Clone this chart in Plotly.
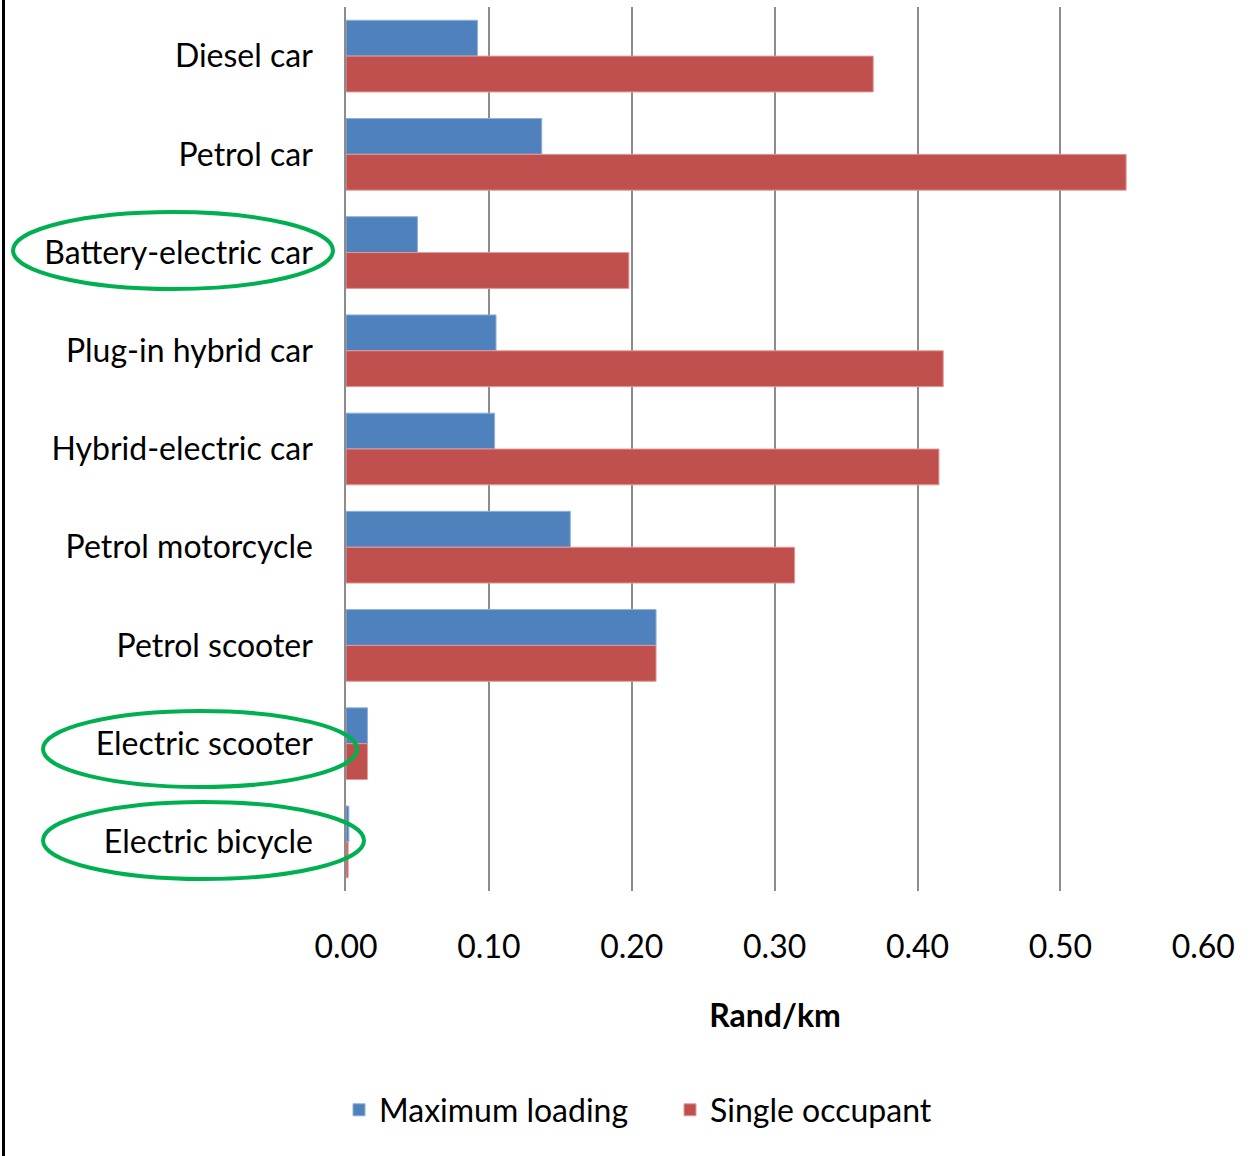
import plotly.graph_objects as go

# Cost per kilometre by vehicle type (Rand/km)
categories = [
    "Diesel car",
    "Petrol car",
    "Battery-electric car",
    "Plug-in hybrid car",
    "Hybrid-electric car",
    "Petrol motorcycle",
    "Petrol scooter",
    "Electric scooter",
    "Electric bicycle",
]
max_loading = [0.092, 0.137, 0.050, 0.105, 0.104, 0.157, 0.217, 0.015, 0.002]
single_occupant = [0.369, 0.546, 0.198, 0.418, 0.415, 0.314, 0.217, 0.015, 0.0015]

x_ticks = [0.0, 0.1, 0.2, 0.3, 0.4, 0.5, 0.6]
x_tick_labels = ["0.00", "0.10", "0.20", "0.30", "0.40", "0.50", "0.60"]

# Categories whose labels are circled
highlighted = ["Battery-electric car", "Electric scooter", "Electric bicycle"]

FONT = "Lato"
W, H = 1259, 1156
M_L, M_R, M_T, M_B = 346, 55, 7, 265
PLOT_W = W - M_L - M_R
PLOT_H = H - M_T - M_B


def px_to_paper_x(px):
    return (px - M_L) / PLOT_W


def px_to_paper_y(py):
    return (H - M_B - py) / PLOT_H


fig = go.Figure()
fig.add_trace(go.Bar(
    y=categories, x=max_loading, name="Maximum loading", orientation="h",
    marker=dict(color="#4F81BD", line=dict(color="#8fb0db", width=1)),
    legend="legend",
))
fig.add_trace(go.Bar(
    y=categories, x=single_occupant, name="Single occupant", orientation="h",
    marker=dict(color="#C0504D", line=dict(color="#e49a98", width=1)),
    legend="legend2",
))

# Green ellipses drawn around the highlighted labels (pixel boxes)
ellipse_boxes = {
    "Battery-electric car": (13, 212, 333, 289),
    "Electric scooter": (43, 711, 357, 787),
    "Electric bicycle": (43, 802, 364, 879),
}
shapes = []
for name in highlighted:
    x0, y0, x1, y1 = ellipse_boxes[name]
    shapes.append(dict(
        type="circle", xref="paper", yref="paper",
        x0=px_to_paper_x(x0), x1=px_to_paper_x(x1),
        y0=px_to_paper_y(y1), y1=px_to_paper_y(y0),
        line=dict(color="#00B050", width=4), layer="above",
    ))

# Left frame line
shapes.append(dict(
    type="line", xref="paper", yref="paper",
    x0=px_to_paper_x(3.5), x1=px_to_paper_x(3.5),
    y0=px_to_paper_y(H + 5), y1=px_to_paper_y(-5),
    line=dict(color="black", width=3),
))

legend_style = dict(
    orientation="h", xanchor="left", yanchor="middle",
    y=px_to_paper_y(1110),
    font=dict(family=FONT, size=32, color="black"),
    bgcolor="rgba(0,0,0,0)",
)

fig.update_layout(
    width=W, height=H,
    margin=dict(l=M_L, r=M_R, t=M_T, b=M_B),
    paper_bgcolor="white", plot_bgcolor="white",
    barmode="group", bargap=0.27, bargroupgap=0,
    font=dict(family=FONT, size=32, color="black"),
    shapes=shapes,
    showlegend=True,
    legend=dict(x=px_to_paper_x(339), **legend_style),
    legend2=dict(x=px_to_paper_x(670), **legend_style),
    xaxis=dict(
        range=[0, 0.6005],
        tickvals=x_ticks, ticktext=x_tick_labels,
        showgrid=True, gridcolor="#8c8c8c", gridwidth=1.5,
        zeroline=False, showline=False,
        ticks="", ticklabelstandoff=34,
        title=dict(text="<b>Rand/km</b>", standoff=40,
                   font=dict(family=FONT, size=32, color="black")),
        fixedrange=True,
    ),
    yaxis=dict(
        autorange="reversed",
        showgrid=False, zeroline=False,
        showline=True, linecolor="#8c8c8c", linewidth=1.5,
        ticks="", ticklabelstandoff=25,
        fixedrange=True,
    ),
)

fig.write_html("out.html")
